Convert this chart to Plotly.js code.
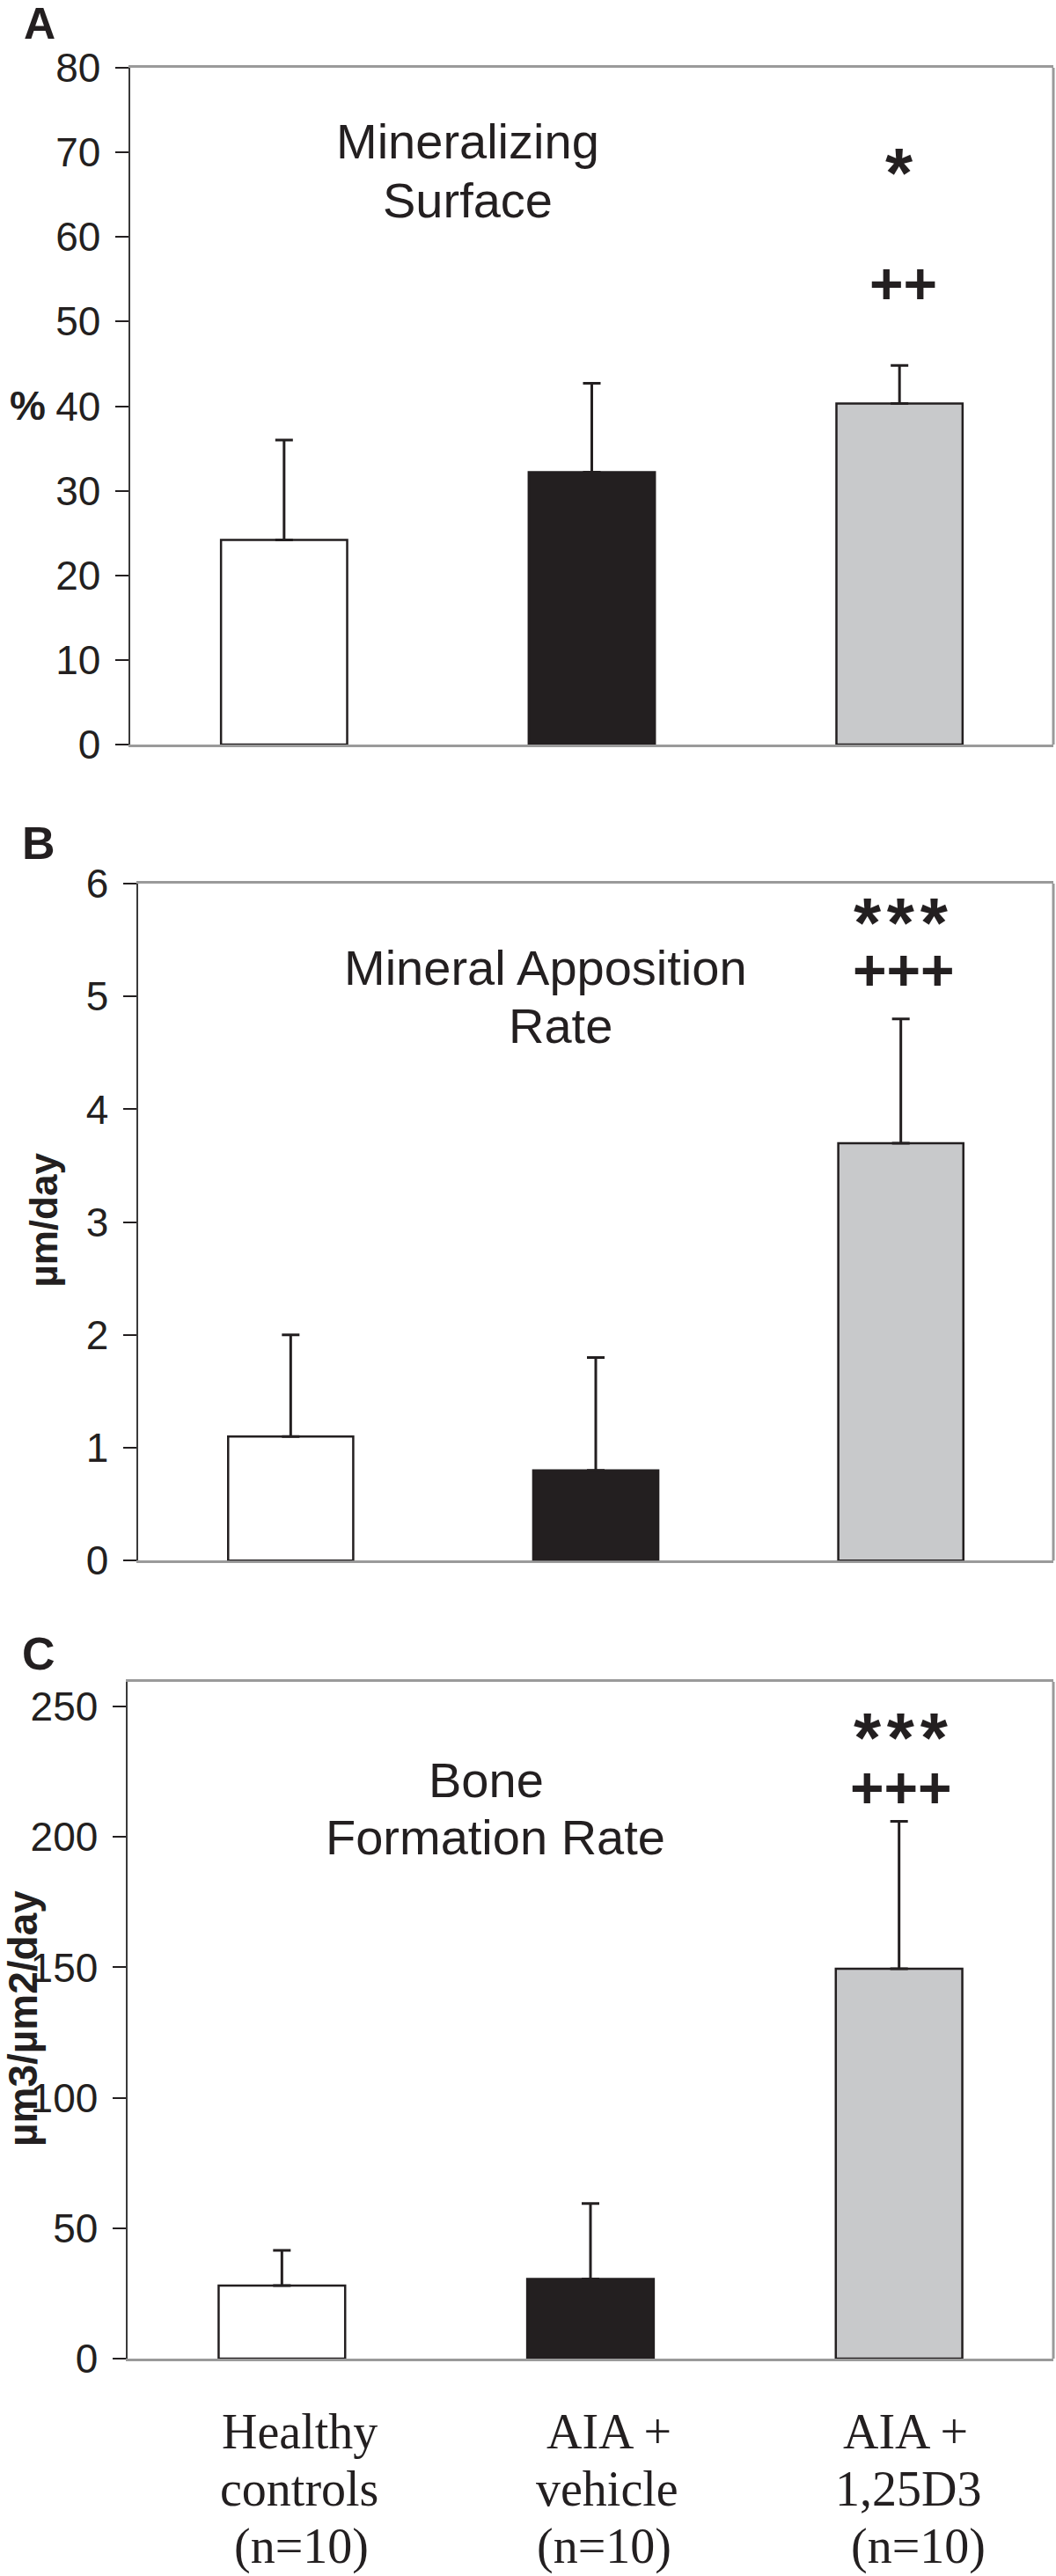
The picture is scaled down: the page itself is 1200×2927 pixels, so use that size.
<!DOCTYPE html>
<html>
<head>
<meta charset="utf-8">
<script src="https://cdn.plot.ly/plotly-3.0.1.min.js"></script>
<style>html,body{margin:0;padding:0;background:#fff;}#chart{width:1200px;height:2927px;}</style>
</head>
<body>
<div id="chart"></div>
<script>
// ---- data ----
const categories = ["Healthy<br>controls<br>(n=10)", "AIA +<br>vehicle<br>(n=10)", "AIA +<br>1,25D3<br>(n=10)"];
const xIndex = [0, 1, 2];

const msMean = [24.2, 32.2, 40.3];      // Mineralizing Surface (%)
const msSD   = [11.8, 10.5, 4.5];
const msTicks = [0, 10, 20, 30, 40, 50, 60, 70, 80];

const marMean = [1.1, 0.8, 3.7];        // Mineral Apposition Rate (µm/day)
const marSD   = [0.9, 1.0, 1.1];
const marTicks = [0, 1, 2, 3, 4, 5, 6];

const bfrMean = [28, 30.5, 149.5];      // Bone Formation Rate (µm3/µm2/day)
const bfrSD   = [13.5, 29, 56.5];
const bfrTicks = [0, 50, 100, 150, 200, 250];

const panelLetters = ["A", "B", "C"];
const panelTitles = [["Mineralizing", "Surface"], ["Mineral Apposition", "Rate"], ["Bone", "Formation Rate"]];
const yTitles = ["%", "µm/day", "µm3/µm2/day"];
const sigStars = ["*", "*\u200a*\u200a*", "*\u200a*\u200a*"];
const sigPlus  = ["++", "+++", "+++"];

// ---- style ----
const INK = '#231f20';
const BORDER = '#9a9a9a';
const barColors = ['#ffffff', INK, '#c8c9cb'];
const sans = 'Liberation Sans, Arial, sans-serif';
const serif = 'Liberation Serif, Times New Roman, serif';
const H = 2927, W = 1200;
const py = p => 1 - p / H;
const px = p => p / W;

function barTrace(mean, sd, xa, ya) {
  return {
    type: 'bar', x: xIndex, y: mean, xaxis: xa, yaxis: ya, width: 0.41,
    marker: {color: barColors, line: {color: INK, width: 2.5}},
    error_y: {type: 'data', symmetric: false, array: sd, arrayminus: sd.map(() => 0),
              color: INK, thickness: 3, width: 10},
    hoverinfo: 'skip', showlegend: false
  };
}

const data = [
  barTrace(msMean, msSD, 'x', 'y'),
  barTrace(marMean, marSD, 'x2', 'y2'),
  barTrace(bfrMean, bfrSD, 'x3', 'y3')
];

function xax(domain, anchor) {
  return {domain: domain, anchor: anchor, range: [-0.5, 2.5], showline: true, linecolor: BORDER,
          linewidth: 3, mirror: true, ticks: '', showticklabels: false, showgrid: false,
          zeroline: false, layer: 'below traces', fixedrange: true};
}
function yax(domain, anchor, range, ticks) {
  return {domain: domain, anchor: anchor, range: range, tickvals: ticks, ticks: 'outside',
          ticklen: 15, tickwidth: 2, tickcolor: INK, showline: true, linecolor: '#3a3a3a',
          linewidth: 2.5, showgrid: false, zeroline: false, layer: 'below traces',
          ticklabelstandoff: 7,
          tickfont: {family: sans, size: 46, color: INK}, fixedrange: true};
}

const layout = {
  width: W, height: H, margin: {l: 0, r: 0, t: 0, b: 0},
  paper_bgcolor: '#fff', plot_bgcolor: '#fff', showlegend: false,
  bargap: 0,
  xaxis:  xax([px(148), px(1197)], 'y'),
  yaxis:  yax([py(846), py(77)], 'x', [0, 80], msTicks),
  xaxis2: xax([px(157), px(1197)], 'y2'),
  yaxis2: yax([py(1773.3), py(1004)], 'x2', [0, 6], marTicks),
  xaxis3: xax([px(145), px(1197)], 'y3'),
  yaxis3: yax([py(2680), py(1911)], 'x3', [0, 259.5], bfrTicks),
  shapes: [], annotations: []
};

['', '2', '3'].forEach(s => {
  layout.shapes.push({type: 'line', xref: 'x' + s + ' domain', yref: 'y' + s + ' domain',
    x0: 1, x1: 1, y0: 0, y1: 1, line: {color: BORDER, width: 3}});
});

const ann = layout.annotations;
function text(t, x, y, xref, yref, size, opts) {
  ann.push(Object.assign({text: t, x: x, y: y, xref: xref, yref: yref, showarrow: false,
    xanchor: 'center', yanchor: 'middle',
    font: {family: sans, size: size, color: INK}}, opts || {}));
}
const bold = sz => ({font: {family: sans, size: sz, color: INK, weight: 'bold'}});

// panel letters
text(panelLetters[0], px(45), py(27), 'paper', 'paper', 50, bold(50));
text(panelLetters[1], px(44), py(958), 'paper', 'paper', 52, bold(52));
text(panelLetters[2], px(44), py(1879), 'paper', 'paper', 52, bold(52));

// y titles
text(yTitles[0], px(31), 40, 'paper', 'y', 46, bold(46));
text(yTitles[1], px(50), py(1386.6), 'paper', 'paper', 44, Object.assign(bold(44), {textangle: -90}));
text(yTitles[2], px(26), py(2294), 'paper', 'paper', 46, Object.assign(bold(46), {textangle: -90}));

// panel titles
text(panelTitles[0][0], 0.598, 71.3, 'x', 'y', 56);
text(panelTitles[0][1], 0.597, 64.3, 'x', 'y', 56);
text(panelTitles[1][0], 0.836, 5.253, 'x2', 'y2', 56);
text(panelTitles[1][1], 0.885, 4.738, 'x2', 'y2', 56);
text(panelTitles[2][0], 0.662, 221.8, 'x3', 'y3', 56);
text(panelTitles[2][1], 0.691, 200.0, 'x3', 'y3', 56);

// significance marks
text(sigStars[0], 2.0, 67.6, 'x', 'y', 80, bold(80));
text(sigPlus[0], 2.011, 54.46, 'x', 'y', 66, bold(66));
text(sigStars[1], 2.001, 5.65, 'x2', 'y2', 80, bold(80));
text(sigPlus[1], 2.01, 5.237, 'x2', 'y2', 66, bold(66));
text(sigStars[2], 2.006, 238.0, 'x3', 'y3', 80, bold(80));
text(sigPlus[2], 2.006, 219.0, 'x3', 'y3', 66, bold(66));

// category labels under panel C (one annotation per line)
const lineMid = [2762.8, 2828.1, 2893.1];
const lineShift = [[20, 20, 22], [21, 19, 15], [7, 10, 22]];
categories.forEach((c, i) => {
  c.split('<br>').forEach((line, j) => {
    ann.push({text: line, x: xIndex[i], y: py(lineMid[j]), xref: 'x3', yref: 'paper',
      xshift: lineShift[i][j], showarrow: false, xanchor: 'center', yanchor: 'middle',
      font: {family: serif, size: 56, color: INK}});
  });
});

Plotly.newPlot('chart', data, layout, {staticPlot: true});
</script>
</body>
</html>
